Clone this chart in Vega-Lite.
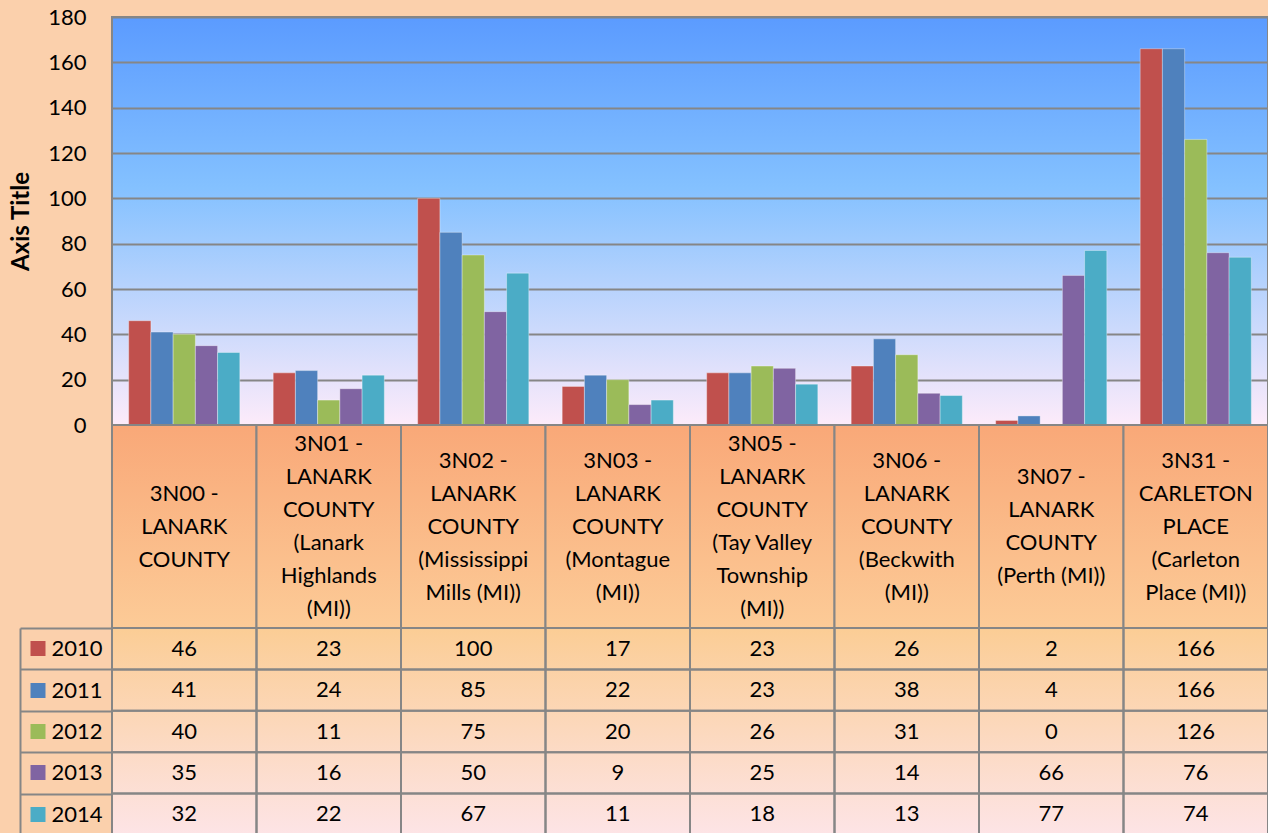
{
  "$schema": "https://vega.github.io/schema/vega-lite/v6.json",
  "background": "#fbd0ac",
  "padding": {"left": 8, "top": 5, "right": 2, "bottom": 0},
  "config": {"font": "Lato", "axis": {"labelFont": "Lato", "titleFont": "Lato"}},
  "datasets": {
    "table": [
      {"cat": "3N00", "year": "2010", "value": 46}, {"cat": "3N00", "year": "2011", "value": 41}, {"cat": "3N00", "year": "2012", "value": 40}, {"cat": "3N00", "year": "2013", "value": 35}, {"cat": "3N00", "year": "2014", "value": 32},
      {"cat": "3N01", "year": "2010", "value": 23}, {"cat": "3N01", "year": "2011", "value": 24}, {"cat": "3N01", "year": "2012", "value": 11}, {"cat": "3N01", "year": "2013", "value": 16}, {"cat": "3N01", "year": "2014", "value": 22},
      {"cat": "3N02", "year": "2010", "value": 100}, {"cat": "3N02", "year": "2011", "value": 85}, {"cat": "3N02", "year": "2012", "value": 75}, {"cat": "3N02", "year": "2013", "value": 50}, {"cat": "3N02", "year": "2014", "value": 67},
      {"cat": "3N03", "year": "2010", "value": 17}, {"cat": "3N03", "year": "2011", "value": 22}, {"cat": "3N03", "year": "2012", "value": 20}, {"cat": "3N03", "year": "2013", "value": 9}, {"cat": "3N03", "year": "2014", "value": 11},
      {"cat": "3N05", "year": "2010", "value": 23}, {"cat": "3N05", "year": "2011", "value": 23}, {"cat": "3N05", "year": "2012", "value": 26}, {"cat": "3N05", "year": "2013", "value": 25}, {"cat": "3N05", "year": "2014", "value": 18},
      {"cat": "3N06", "year": "2010", "value": 26}, {"cat": "3N06", "year": "2011", "value": 38}, {"cat": "3N06", "year": "2012", "value": 31}, {"cat": "3N06", "year": "2013", "value": 14}, {"cat": "3N06", "year": "2014", "value": 13},
      {"cat": "3N07", "year": "2010", "value": 2}, {"cat": "3N07", "year": "2011", "value": 4}, {"cat": "3N07", "year": "2012", "value": 0}, {"cat": "3N07", "year": "2013", "value": 66}, {"cat": "3N07", "year": "2014", "value": 77},
      {"cat": "3N31", "year": "2010", "value": 166}, {"cat": "3N31", "year": "2011", "value": 166}, {"cat": "3N31", "year": "2012", "value": 126}, {"cat": "3N31", "year": "2013", "value": 76}, {"cat": "3N31", "year": "2014", "value": 74}
    ],
    "cats": [
      {"cat": "3N00", "label": "3N00 -\nLANARK\nCOUNTY"},
      {"cat": "3N01", "label": "3N01 -\nLANARK\nCOUNTY\n(Lanark\nHighlands\n(MI))"},
      {"cat": "3N02", "label": "3N02 -\nLANARK\nCOUNTY\n(Mississippi\nMills (MI))"},
      {"cat": "3N03", "label": "3N03 -\nLANARK\nCOUNTY\n(Montague\n(MI))"},
      {"cat": "3N05", "label": "3N05 -\nLANARK\nCOUNTY\n(Tay Valley\nTownship\n(MI))"},
      {"cat": "3N06", "label": "3N06 -\nLANARK\nCOUNTY\n(Beckwith\n(MI))"},
      {"cat": "3N07", "label": "3N07 -\nLANARK\nCOUNTY\n(Perth (MI))"},
      {"cat": "3N31", "label": "3N31 -\nCARLETON\nPLACE\n(Carleton\nPlace (MI))"}
    ]
  },
  "spacing": 0,
  "bounds": "flush",
  "vconcat": [
    {
      "width": 1156,
      "height": 408,
      "data": {"name": "table"},
      "view": {
        "fill": {"gradient": "linear", "x1": 0, "y1": 0, "x2": 0, "y2": 1, "stops": [{"offset": 0, "color": "#5b9bff"}, {"offset": 0.42, "color": "#84c1ff"}, {"offset": 1, "color": "#fdebfa"}]},
        "stroke": "#868686",
        "strokeWidth": 2
      },
      "mark": {"type": "bar", "stroke": "#ffffff", "strokeOpacity": 0.35, "strokeWidth": 1},
      "encoding": {
        "x": {"field": "cat", "type": "nominal", "scale": {"paddingInner": 0, "paddingOuter": 0}, "axis": null},
        "xOffset": {"field": "year", "type": "nominal", "scale": {"paddingInner": 0, "paddingOuter": 0.75}},
        "y": {
          "field": "value", "type": "quantitative",
          "scale": {"domain": [0, 180], "nice": false},
          "axis": {
            "values": [0, 20, 40, 60, 80, 100, 120, 140, 160, 180],
            "grid": true, "gridColor": "#868686", "gridWidth": 2, "gridOpacity": 1,
            "domain": false, "ticks": false,
            "labelPadding": 26, "labelFontSize": 22, "labelColor": "#000000",
            "title": "Axis Title", "titleFontSize": 24, "titleFontWeight": "bold", "titleColor": "#000000",
            "titlePadding": 13, "minExtent": 66, "maxExtent": 66
          }
        },
        "color": {
          "field": "year", "type": "nominal",
          "scale": {"domain": ["2010", "2011", "2012", "2013", "2014"], "range": ["#c0504d", "#4f81bd", "#9bbb59", "#8064a2", "#4bacc6"]},
          "legend": null
        }
      }
    },
    {
      "width": 1156,
      "height": 203,
      "data": {"name": "cats"},
      "view": {"stroke": null},
      "encoding": {
        "x": {"field": "cat", "type": "nominal", "scale": {"paddingInner": 0, "paddingOuter": 0}, "axis": null}
      },
      "layer": [
        {
          "mark": {
            "type": "rect", "stroke": "#868686", "strokeWidth": 2,
            "fill": {"gradient": "linear", "x1": 0, "y1": 0, "x2": 0, "y2": 1, "stops": [{"offset": 0, "color": "#f9a878"}, {"offset": 1, "color": "#fccb97"}]}
          }
        },
        {
          "mark": {
            "type": "text", "lineBreak": "\n", "fontSize": 22, "lineHeight": 33, "color": "#000000", "baseline": "middle", "align": "center",
            "dy": {"expr": "-(length(split(datum.label, '\\n')) - 1) * 16.5"}
          },
          "encoding": {"text": {"field": "label", "type": "nominal"}}
        }
      ]
    },
    {
      "width": 1156,
      "height": 207,
      "data": {"name": "table"},
      "view": {
        "fill": {"gradient": "linear", "x1": 0, "y1": 0, "x2": 0, "y2": 1, "stops": [{"offset": 0, "color": "#fbcd95"}, {"offset": 1, "color": "#fde4e6"}]},
        "stroke": null
      },
      "encoding": {
        "x": {"field": "cat", "type": "nominal", "scale": {"paddingInner": 0, "paddingOuter": 0}, "axis": null}
      },
      "layer": [
        {
          "mark": {"type": "rect", "fill": "transparent", "stroke": "#868686", "strokeWidth": 2},
          "encoding": {
            "y": {
              "field": "year", "type": "nominal",
              "scale": {"paddingInner": 0, "paddingOuter": 0},
              "axis": {
                "orient": "left", "offset": 92, "title": null, "grid": false,
                "domain": true, "domainColor": "#868686", "domainWidth": 2,
                "ticks": true, "tickBand": "extent", "tickSize": -92, "tickColor": "#868686", "tickWidth": 2,
                "labelAlign": "left", "labelBaseline": "middle", "labelPadding": 61, "labelFontSize": 22, "labelColor": "#000000"
              }
            }
          }
        },
        {
          "mark": {"type": "text", "fontSize": 22, "color": "#000000", "baseline": "middle", "align": "center"},
          "encoding": {
            "text": {"field": "value", "type": "quantitative"},
            "y": {
              "field": "year", "type": "nominal",
              "scale": {"paddingInner": 0, "paddingOuter": 0},
              "axis": {
                "orient": "left", "offset": 67, "title": null, "grid": false,
                "domain": false, "labels": false,
                "ticks": true, "tickSize": 15, "tickWidth": 15,
                "tickColor": {
                  "condition": [
                    {"test": "datum.value == '2010'", "value": "#c0504d"},
                    {"test": "datum.value == '2011'", "value": "#4f81bd"},
                    {"test": "datum.value == '2012'", "value": "#9bbb59"},
                    {"test": "datum.value == '2013'", "value": "#8064a2"}
                  ],
                  "value": "#4bacc6"
                }
              }
            }
          }
        }
      ],
      "resolve": {"axis": {"y": "independent"}}
    }
  ]
}
